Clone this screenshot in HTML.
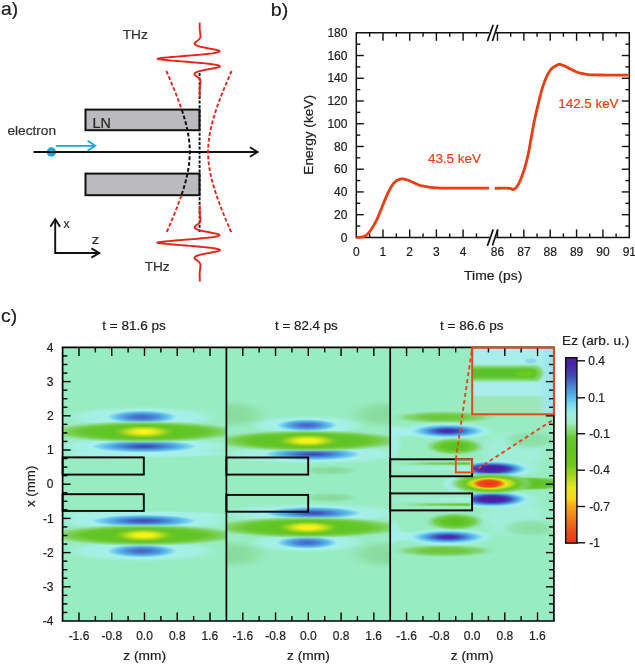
<!DOCTYPE html>
<html><head><meta charset="utf-8"><title>figure</title>
<style>
html,body{margin:0;padding:0;background:#fff;overflow:hidden;}
svg{display:block;will-change:transform;}
text{font-family:"Liberation Sans",sans-serif;}
</style></head>
<body>
<svg width="635" height="665" viewBox="0 0 635 665">
<rect width="635" height="665" fill="#fff"/>
<text transform="translate(1.09 15.2) scale(1.0686 1)" font-size="18" fill="#1c1c1c" stroke="#1c1c1c" stroke-width="0.2">a)</text>
<text transform="translate(122.7 39.1) scale(1.0255 1)" font-size="13.4" fill="#303030" stroke="#303030" stroke-width="0.2">THz</text>
<text transform="translate(144.7 270.6) scale(1.0171 1)" font-size="13.4" fill="#303030" stroke="#303030" stroke-width="0.2">THz</text>
<text transform="translate(7.43 135.1) scale(1.0287 1)" font-size="13.3" fill="#303030" stroke="#303030" stroke-width="0.2">electron</text>
<rect x="85.5" y="109.6" width="114" height="20.6" fill="#bbbbbd" stroke="#111" stroke-width="2"/>
<rect x="85.5" y="173.6" width="114" height="21.6" fill="#bbbbbd" stroke="#111" stroke-width="2"/>
<text transform="translate(92.62 127.7) scale(1.0398 1)" font-size="13.8" fill="#262626" stroke="#262626" stroke-width="0.2">LN</text>
<circle cx="51.4" cy="152" r="4.7" fill="#1aa6dd"/>
<line x1="33.5" y1="152" x2="257" y2="152" stroke="#111" stroke-width="1.9"/>
<path d="M249.9 147.2 L257.6 152 L249.9 156.8" fill="none" stroke="#111" stroke-width="1.9" stroke-linejoin="miter"/>
<line x1="56" y1="145.8" x2="95" y2="145.8" stroke="#1aa6dd" stroke-width="1.8"/>
<path d="M87.6 140.8 L95.3 145.8 L87.6 150.8" fill="none" stroke="#1aa6dd" stroke-width="1.8"/>
<path d="M55.2 219.5 L55.2 253 L99 253" fill="none" stroke="#111" stroke-width="1.9"/>
<path d="M50.3 226.8 L55.2 219.2 L60.1 226.8" fill="none" stroke="#111" stroke-width="1.9"/>
<path d="M91.4 248.4 L99.2 253 L91.4 257.6" fill="none" stroke="#111" stroke-width="1.9"/>
<text transform="translate(63.55 227.9) scale(0.9353 1)" font-size="13" fill="#303030" stroke="#303030" stroke-width="0.2">x</text>
<text transform="translate(91.8 243.6) scale(1.1285 1)" font-size="13" fill="#303030" stroke="#303030" stroke-width="0.2">z</text>
<line x1="199.6" y1="73" x2="199.6" y2="232" stroke="#111" stroke-width="1.9" stroke-dasharray="3 1.6"/>
<path d="M166.3 71 L166.52 71.5 L166.74 72 L166.96 72.5 L167.18 73 L167.4 73.5 L167.62 74 L167.84 74.5 L168.06 75 L168.28 75.5 L168.49 76 L168.71 76.5 L168.93 77 L169.14 77.5 L169.36 78 L169.57 78.5 L169.79 79 L170 79.5 L170.22 80 L170.43 80.5 L170.64 81 L170.86 81.5 L171.07 82 L171.28 82.5 L171.49 83 L171.7 83.5 L171.91 84 L172.12 84.5 L172.33 85 L172.54 85.5 L172.74 86 L172.95 86.5 L173.16 87 L173.36 87.5 L173.57 88 L173.77 88.5 L173.98 89 L174.18 89.5 L174.38 90 L174.58 90.5 L174.79 91 L174.99 91.5 L175.19 92 L175.39 92.5 L175.58 93 L175.78 93.5 L175.98 94 L176.18 94.5 L176.37 95 L176.57 95.5 L176.76 96 L176.96 96.5 L177.15 97 L177.34 97.5 L177.53 98 L177.72 98.5 L177.91 99 L178.1 99.5 L178.29 100 L178.47 100.5 L178.66 101 L178.85 101.5 L179.03 102 L179.21 102.5 L179.4 103 L179.58 103.5 L179.76 104 L179.94 104.5 L180.12 105 L180.29 105.5 L180.47 106 L180.65 106.5 L180.82 107 L180.99 107.5 L181.17 108 L181.34 108.5 L181.51 109 L181.68 109.5" fill="none" stroke="#e2261b" stroke-width="1.9" stroke-dasharray="3.8 2.1" stroke-linecap="butt"/>
<path d="M181.84 110 L182.01 110.5 L182.18 111 L182.34 111.5 L182.5 112 L182.67 112.5 L182.83 113 L182.99 113.5 L183.14 114 L183.3 114.5 L183.46 115 L183.61 115.5 L183.76 116 L183.91 116.5 L184.06 117 L184.21 117.5 L184.36 118 L184.5 118.5 L184.65 119 L184.79 119.5 L184.93 120 L185.07 120.5 L185.21 121 L185.34 121.5 L185.48 122 L185.61 122.5 L185.74 123 L185.87 123.5 L186 124 L186.13 124.5 L186.25 125 L186.37 125.5 L186.49 126 L186.61 126.5 L186.73 127 L186.85 127.5 L186.96 128 L187.07 128.5 L187.18 129 L187.29 129.5 L187.39 130 L187.5 130.5 L187.6 131 L187.7 131.5 L187.8 132 L187.89 132.5 L187.99 133 L188.08 133.5 L188.17 134 L188.25 134.5 L188.34 135 L188.42 135.5 L188.5 136 L188.58 136.5 L188.66 137 L188.73 137.5 L188.8 138 L188.87 138.5 L188.94 139 L189 139.5 L189.06 140 L189.12 140.5 L189.18 141 L189.23 141.5 L189.29 142 L189.33 142.5 L189.38 143 L189.43 143.5 L189.47 144 L189.51 144.5 L189.55 145 L189.58 145.5 L189.61 146 L189.64 146.5 L189.67 147 L189.69 147.5 L189.72 148 L189.74 148.5 L189.75 149 L189.77 149.5 L189.78 150 L189.79 150.5 L189.79 151 L189.8 151.5 L189.8 152 L189.8 152.5 L189.79 153 L189.79 153.5 L189.78 154 L189.77 154.5 L189.75 155 L189.74 155.5 L189.72 156 L189.69 156.5 L189.67 157 L189.64 157.5 L189.61 158 L189.58 158.5 L189.55 159 L189.51 159.5 L189.47 160 L189.43 160.5 L189.38 161 L189.33 161.5 L189.29 162 L189.23 162.5 L189.18 163 L189.12 163.5 L189.06 164 L189 164.5 L188.94 165 L188.87 165.5 L188.8 166 L188.73 166.5 L188.66 167 L188.58 167.5 L188.5 168 L188.42 168.5 L188.34 169 L188.25 169.5 L188.17 170 L188.08 170.5 L187.99 171 L187.89 171.5 L187.8 172 L187.7 172.5 L187.6 173 L187.5 173.5 L187.39 174 L187.29 174.5 L187.18 175 L187.07 175.5 L186.96 176 L186.85 176.5 L186.73 177 L186.61 177.5 L186.49 178 L186.37 178.5 L186.25 179 L186.13 179.5 L186 180 L185.87 180.5 L185.74 181 L185.61 181.5 L185.48 182 L185.34 182.5 L185.21 183 L185.07 183.5 L184.93 184 L184.79 184.5 L184.65 185 L184.5 185.5 L184.36 186 L184.21 186.5 L184.06 187 L183.91 187.5 L183.76 188 L183.61 188.5 L183.46 189 L183.3 189.5 L183.14 190 L182.99 190.5 L182.83 191 L182.67 191.5 L182.5 192 L182.34 192.5 L182.18 193 L182.01 193.5 L181.84 194 L181.68 194.5 L181.51 195" fill="none" stroke="#111" stroke-width="2" stroke-dasharray="3.8 2.1" stroke-linecap="butt"/>
<path d="M181.34 195.5 L181.17 196 L180.99 196.5 L180.82 197 L180.65 197.5 L180.47 198 L180.29 198.5 L180.12 199 L179.94 199.5 L179.76 200 L179.58 200.5 L179.4 201 L179.21 201.5 L179.03 202 L178.85 202.5 L178.66 203 L178.47 203.5 L178.29 204 L178.1 204.5 L177.91 205 L177.72 205.5 L177.53 206 L177.34 206.5 L177.15 207 L176.96 207.5 L176.76 208 L176.57 208.5 L176.37 209 L176.18 209.5 L175.98 210 L175.78 210.5 L175.58 211 L175.39 211.5 L175.19 212 L174.99 212.5 L174.79 213 L174.58 213.5 L174.38 214 L174.18 214.5 L173.98 215 L173.77 215.5 L173.57 216 L173.36 216.5 L173.16 217 L172.95 217.5 L172.74 218 L172.54 218.5 L172.33 219 L172.12 219.5 L171.91 220 L171.7 220.5 L171.49 221 L171.28 221.5 L171.07 222 L170.86 222.5 L170.64 223 L170.43 223.5 L170.22 224 L170 224.5 L169.79 225 L169.57 225.5 L169.36 226 L169.14 226.5 L168.93 227 L168.71 227.5 L168.49 228 L168.28 228.5 L168.06 229 L167.84 229.5 L167.62 230 L167.4 230.5 L167.18 231 L166.96 231.5 L166.74 232 L166.52 232.5 L166.3 233" fill="none" stroke="#e2261b" stroke-width="1.9" stroke-dasharray="3.8 2.1" stroke-linecap="butt"/>
<path d="M231.6 71 L231.38 71.5 L231.16 72 L230.94 72.5 L230.72 73 L230.5 73.5 L230.28 74 L230.06 74.5 L229.84 75 L229.62 75.5 L229.41 76 L229.19 76.5 L228.97 77 L228.76 77.5 L228.54 78 L228.33 78.5 L228.11 79 L227.9 79.5 L227.68 80 L227.47 80.5 L227.26 81 L227.04 81.5 L226.83 82 L226.62 82.5 L226.41 83 L226.2 83.5 L225.99 84 L225.78 84.5 L225.57 85 L225.36 85.5 L225.16 86 L224.95 86.5 L224.74 87 L224.54 87.5 L224.33 88 L224.13 88.5 L223.92 89 L223.72 89.5 L223.52 90 L223.32 90.5 L223.11 91 L222.91 91.5 L222.71 92 L222.51 92.5 L222.32 93 L222.12 93.5 L221.92 94 L221.72 94.5 L221.53 95 L221.33 95.5 L221.14 96 L220.94 96.5 L220.75 97 L220.56 97.5 L220.37 98 L220.18 98.5 L219.99 99 L219.8 99.5 L219.61 100 L219.43 100.5 L219.24 101 L219.05 101.5 L218.87 102 L218.69 102.5 L218.5 103 L218.32 103.5 L218.14 104 L217.96 104.5 L217.78 105 L217.61 105.5 L217.43 106 L217.25 106.5 L217.08 107 L216.91 107.5 L216.73 108 L216.56 108.5 L216.39 109 L216.22 109.5 L216.06 110 L215.89 110.5 L215.72 111 L215.56 111.5 L215.4 112 L215.23 112.5 L215.07 113 L214.91 113.5 L214.76 114 L214.6 114.5 L214.44 115 L214.29 115.5 L214.14 116 L213.99 116.5 L213.84 117 L213.69 117.5 L213.54 118 L213.4 118.5 L213.25 119 L213.11 119.5 L212.97 120 L212.83 120.5 L212.69 121 L212.56 121.5 L212.42 122 L212.29 122.5 L212.16 123 L212.03 123.5 L211.9 124 L211.77 124.5 L211.65 125 L211.53 125.5 L211.41 126 L211.29 126.5 L211.17 127 L211.05 127.5 L210.94 128 L210.83 128.5 L210.72 129 L210.61 129.5 L210.51 130 L210.4 130.5 L210.3 131 L210.2 131.5 L210.1 132 L210.01 132.5 L209.91 133 L209.82 133.5 L209.73 134 L209.65 134.5 L209.56 135 L209.48 135.5 L209.4 136 L209.32 136.5 L209.24 137 L209.17 137.5 L209.1 138 L209.03 138.5 L208.96 139 L208.9 139.5 L208.84 140 L208.78 140.5 L208.72 141 L208.67 141.5 L208.61 142 L208.57 142.5 L208.52 143 L208.47 143.5 L208.43 144 L208.39 144.5 L208.35 145 L208.32 145.5 L208.29 146 L208.26 146.5 L208.23 147 L208.21 147.5 L208.18 148 L208.16 148.5 L208.15 149 L208.13 149.5 L208.12 150 L208.11 150.5 L208.11 151 L208.1 151.5 L208.1 152 L208.1 152.5 L208.11 153 L208.11 153.5 L208.12 154 L208.13 154.5 L208.15 155 L208.16 155.5 L208.18 156 L208.21 156.5 L208.23 157 L208.26 157.5 L208.29 158 L208.32 158.5 L208.35 159 L208.39 159.5 L208.43 160 L208.47 160.5 L208.52 161 L208.57 161.5 L208.61 162 L208.67 162.5 L208.72 163 L208.78 163.5 L208.84 164 L208.9 164.5 L208.96 165 L209.03 165.5 L209.1 166 L209.17 166.5 L209.24 167 L209.32 167.5 L209.4 168 L209.48 168.5 L209.56 169 L209.65 169.5 L209.73 170 L209.82 170.5 L209.91 171 L210.01 171.5 L210.1 172 L210.2 172.5 L210.3 173 L210.4 173.5 L210.51 174 L210.61 174.5 L210.72 175 L210.83 175.5 L210.94 176 L211.05 176.5 L211.17 177 L211.29 177.5 L211.41 178 L211.53 178.5 L211.65 179 L211.77 179.5 L211.9 180 L212.03 180.5 L212.16 181 L212.29 181.5 L212.42 182 L212.56 182.5 L212.69 183 L212.83 183.5 L212.97 184 L213.11 184.5 L213.25 185 L213.4 185.5 L213.54 186 L213.69 186.5 L213.84 187 L213.99 187.5 L214.14 188 L214.29 188.5 L214.44 189 L214.6 189.5 L214.76 190 L214.91 190.5 L215.07 191 L215.23 191.5 L215.4 192 L215.56 192.5 L215.72 193 L215.89 193.5 L216.06 194 L216.22 194.5 L216.39 195 L216.56 195.5 L216.73 196 L216.91 196.5 L217.08 197 L217.25 197.5 L217.43 198 L217.61 198.5 L217.78 199 L217.96 199.5 L218.14 200 L218.32 200.5 L218.5 201 L218.69 201.5 L218.87 202 L219.05 202.5 L219.24 203 L219.43 203.5 L219.61 204 L219.8 204.5 L219.99 205 L220.18 205.5 L220.37 206 L220.56 206.5 L220.75 207 L220.94 207.5 L221.14 208 L221.33 208.5 L221.53 209 L221.72 209.5 L221.92 210 L222.12 210.5 L222.32 211 L222.51 211.5 L222.71 212 L222.91 212.5 L223.11 213 L223.32 213.5 L223.52 214 L223.72 214.5 L223.92 215 L224.13 215.5 L224.33 216 L224.54 216.5 L224.74 217 L224.95 217.5 L225.16 218 L225.36 218.5 L225.57 219 L225.78 219.5 L225.99 220 L226.2 220.5 L226.41 221 L226.62 221.5 L226.83 222 L227.04 222.5 L227.26 223 L227.47 223.5 L227.68 224 L227.9 224.5 L228.11 225 L228.33 225.5 L228.54 226 L228.76 226.5 L228.97 227 L229.19 227.5 L229.41 228 L229.62 228.5 L229.84 229 L230.06 229.5 L230.28 230 L230.5 230.5 L230.72 231 L230.94 231.5 L231.16 232 L231.38 232.5 L231.6 233" fill="none" stroke="#e2261b" stroke-width="1.9" stroke-dasharray="3.8 2.1" stroke-linecap="butt"/>
<path d="M199.78 22.6 L199.76 23 L199.74 23.4 L199.73 23.8 L199.71 24.2 L199.69 24.6 L199.68 25 L199.66 25.4 L199.65 25.8 L199.64 26.2 L199.64 26.6 L199.63 27 L199.64 27.4 L199.64 27.8 L199.66 28.2 L199.68 28.6 L199.7 29 L199.73 29.4 L199.77 29.8 L199.81 30.2 L199.86 30.6 L199.91 31 L199.97 31.4 L200.03 31.8 L200.09 32.2 L200.15 32.6 L200.21 33 L200.26 33.4 L200.31 33.8 L200.35 34.2 L200.37 34.6 L200.4 35 L200.43 35.4 L200.44 35.8 L200.43 36.2 L200.39 36.6 L200.32 37 L200.21 37.4 L200.06 37.8 L199.86 38.2 L199.61 38.6 L199.3 39 L198.95 39.4 L198.54 39.8 L198.08 40.2 L197.57 40.6 L197.03 41 L196.48 41.4 L195.91 41.8 L195.36 42.2 L194.95 42.6 L194.72 43 L194.62 43.4 L194.66 43.8 L194.85 44.2 L195.23 44.6 L195.8 45 L196.57 45.4 L197.56 45.8 L198.76 46.2 L200.17 46.6 L201.78 47 L203.56 47.4 L205.5 47.8 L207.55 48.2 L209.67 48.6 L211.8 49 L213.88 49.4 L215.85 49.8 L217.63 50.2 L218.99 50.6 L219.52 51 L219.59 51.4 L219.15 51.8 L218.17 52.2 L216.63 52.6 L214.53 53 L211.87 53.4 L208.69 53.8 L205.01 54.2 L200.89 54.6 L196.41 55 L191.65 55.4 L186.71 55.8 L181.7 56.2 L176.76 56.6 L172.01 57 L167.6 57.4 L163.66 57.8 L160.33 58.2 L157.76 58.6 L157.75 59 L160.28 59.4 L163.58 59.8 L167.51 60.2 L171.91 60.6 L176.66 61 L181.61 61.4 L186.63 61.8 L191.59 62.2 L196.38 62.6 L200.9 63 L205.05 63.4 L208.77 63.8 L212 64.2 L214.7 64.6 L216.84 65 L218.41 65.4 L219.42 65.8 L219.88 66.2 L219.83 66.6 L219.3 67 L217.8 67.4 L216.03 67.8 L214.05 68.2 L211.95 68.6 L209.8 69 L207.66 69.4 L205.59 69.8 L203.62 70.2 L201.81 70.6 L200.18 71 L198.74 71.4 L197.52 71.8 L196.51 72.2 L195.71 72.6 L195.13 73 L194.74 73.4 L194.53 73.8 L194.49 74.2 L194.59 74.6 L194.81 75 L195.33 75.4 L195.88 75.8 L196.45 76.2 L197.02 76.6 L197.56 77 L198.07 77.4 L198.53 77.8 L198.94 78.2 L199.3 78.6 L199.61 79 L199.86 79.4 L200.06 79.8 L200.21 80.2 L200.32 80.6 L200.39 81 L200.43 81.4 L200.44 81.8 L200.43 82.2 L200.4 82.6 L200.37 83 L200.35 83.4 L200.31 83.8 L200.26 84.2 L200.21 84.6 L200.15 85 L200.09 85.4 L200.03 85.8 L199.97 86.2 L199.91 86.6 L199.86 87 L199.81 87.4 L199.77 87.8 L199.73 88.2 L199.7 88.6 L199.68 89 L199.66 89.4 L199.64 89.8 L199.64 90.2 L199.63 90.6 L199.64 91 L199.64 91.4 L199.65 91.8 L199.66 92.2 L199.68 92.6 L199.69 93 L199.71 93.4 L199.73 93.8 L199.74 94.2 L199.76 94.6 L199.78 95 L199.79 95.4 L199.8 95.8 L199.81 96.2 L199.82 96.6 L199.83 97 L199.84 97.4" fill="none" stroke="#e2261b" stroke-width="1.9" stroke-linejoin="round"/>
<path d="M199.81 205.5 L199.79 205.9 L199.78 206.3 L199.76 206.7 L199.75 207.1 L199.73 207.5 L199.71 207.9 L199.7 208.3 L199.68 208.7 L199.67 209.1 L199.65 209.5 L199.64 209.9 L199.64 210.3 L199.63 210.7 L199.64 211.1 L199.64 211.5 L199.65 211.9 L199.67 212.3 L199.69 212.7 L199.72 213.1 L199.76 213.5 L199.8 213.9 L199.85 214.3 L199.9 214.7 L199.95 215.1 L200.01 215.5 L200.07 215.9 L200.13 216.3 L200.19 216.7 L200.25 217.1 L200.3 217.5 L200.34 217.9 L200.37 218.3 L200.39 218.7 L200.43 219.1 L200.44 219.5 L200.44 219.9 L200.4 220.3 L200.34 220.7 L200.24 221.1 L200.1 221.5 L199.91 221.9 L199.67 222.3 L199.38 222.7 L199.04 223.1 L198.64 223.5 L198.2 223.9 L197.7 224.3 L197.17 224.7 L196.62 225.1 L196.05 225.5 L195.5 225.9 L195.02 226.3 L194.77 226.7 L194.63 227.1 L194.63 227.5 L194.79 227.9 L195.12 228.3 L195.64 228.7 L196.36 229.1 L197.29 229.5 L198.44 229.9 L199.8 230.3 L201.36 230.7 L203.1 231.1 L205 231.5 L207.03 231.9 L209.13 232.3 L211.27 232.7 L213.37 233.1 L215.38 233.5 L217.21 233.9 L218.79 234.3 L219.43 234.7 L219.62 235.1 L219.31 235.5 L218.47 235.9 L217.07 236.3 L215.11 236.7 L212.59 237.1 L209.53 237.5 L205.97 237.9 L201.96 238.3 L197.56 238.7 L192.86 239.1 L187.95 239.5 L182.95 239.9 L177.98 240.3 L173.17 240.7 L168.66 241.1 L164.59 241.5 L161.1 241.9 L158.33 242.3 L157.24 242.7 L159.57 243.1 L162.7 243.5 L166.48 243.9 L170.77 244.3 L175.45 244.7 L180.36 245.1 L185.37 245.5 L190.36 245.9 L195.21 246.3 L199.8 246.7 L204.05 247.1 L207.89 247.5 L211.24 247.9 L214.08 248.3 L216.36 248.7 L218.07 249.1 L219.22 249.5 L219.82 249.9 L219.89 250.3 L219.47 250.7 L218.21 251.1 L216.49 251.5 L214.56 251.9 L212.48 252.3 L210.34 252.7 L208.19 253.1 L206.09 253.5 L204.1 253.9 L202.25 254.3 L200.57 254.7 L199.08 255.1 L197.8 255.5 L196.74 255.9 L195.89 256.3 L195.25 256.7 L194.82 257.1 L194.56 257.5 L194.48 257.9 L194.55 258.3 L194.75 258.7 L195.19 259.1 L195.74 259.5 L196.31 259.9 L196.88 260.3 L197.43 260.7 L197.94 261.1 L198.42 261.5 L198.84 261.9 L199.22 262.3 L199.54 262.7 L199.8 263.1 L200.01 263.5 L200.18 263.9 L200.3 264.3 L200.38 264.7 L200.43 265.1 L200.44 265.5 L200.44 265.9 L200.41 266.3 L200.38 266.7 L200.35 267.1 L200.32 267.5 L200.27 267.9 L200.22 268.3 L200.16 268.7 L200.1 269.1 L200.04 269.5 L199.98 269.9 L199.93 270.3 L199.87 270.7 L199.82 271.1 L199.78 271.5 L199.74 271.9 L199.71 272.3 L199.68 272.7 L199.66 273.1 L199.65 273.5 L199.64 273.9 L199.63 274.3 L199.64 274.7 L199.64 275.1 L199.65 275.5 L199.66 275.9 L199.67 276.3 L199.69 276.7 L199.71 277.1 L199.72 277.5 L199.74 277.9 L199.76 278.3 L199.77 278.7 L199.79 279.1 L199.8 279.5 L199.81 279.9 L199.82 280.3 L199.83 280.7 L199.84 281.1 L199.84 281.5" fill="none" stroke="#e2261b" stroke-width="1.9" stroke-linejoin="round"/>
<text transform="translate(270.72 15.6) scale(1.0936 1)" font-size="18" fill="#1c1c1c" stroke="#1c1c1c" stroke-width="0.2">b)</text>
<line x1="356.3" y1="32.05" x2="356.3" y2="238.15" stroke="#111" stroke-width="1.5"/>
<line x1="629.3" y1="32.05" x2="629.3" y2="238.15" stroke="#111" stroke-width="1.5"/>
<line x1="356.3" y1="237.4" x2="489.6" y2="237.4" stroke="#111" stroke-width="1.5"/>
<line x1="496" y1="237.4" x2="629.3" y2="237.4" stroke="#111" stroke-width="1.5"/>
<line x1="356.3" y1="32.8" x2="489.6" y2="32.8" stroke="#111" stroke-width="1.5"/>
<line x1="496" y1="32.8" x2="629.3" y2="32.8" stroke="#111" stroke-width="1.5"/>
<line x1="356.3" y1="226.03" x2="360.3" y2="226.03" stroke="#111" stroke-width="1.4"/>
<line x1="629.3" y1="226.03" x2="625.3" y2="226.03" stroke="#111" stroke-width="1.4"/>
<line x1="356.3" y1="214.67" x2="363.8" y2="214.67" stroke="#111" stroke-width="1.4"/>
<line x1="629.3" y1="214.67" x2="621.8" y2="214.67" stroke="#111" stroke-width="1.4"/>
<line x1="356.3" y1="203.3" x2="360.3" y2="203.3" stroke="#111" stroke-width="1.4"/>
<line x1="629.3" y1="203.3" x2="625.3" y2="203.3" stroke="#111" stroke-width="1.4"/>
<line x1="356.3" y1="191.93" x2="363.8" y2="191.93" stroke="#111" stroke-width="1.4"/>
<line x1="629.3" y1="191.93" x2="621.8" y2="191.93" stroke="#111" stroke-width="1.4"/>
<line x1="356.3" y1="180.57" x2="360.3" y2="180.57" stroke="#111" stroke-width="1.4"/>
<line x1="629.3" y1="180.57" x2="625.3" y2="180.57" stroke="#111" stroke-width="1.4"/>
<line x1="356.3" y1="169.2" x2="363.8" y2="169.2" stroke="#111" stroke-width="1.4"/>
<line x1="629.3" y1="169.2" x2="621.8" y2="169.2" stroke="#111" stroke-width="1.4"/>
<line x1="356.3" y1="157.83" x2="360.3" y2="157.83" stroke="#111" stroke-width="1.4"/>
<line x1="629.3" y1="157.83" x2="625.3" y2="157.83" stroke="#111" stroke-width="1.4"/>
<line x1="356.3" y1="146.47" x2="363.8" y2="146.47" stroke="#111" stroke-width="1.4"/>
<line x1="629.3" y1="146.47" x2="621.8" y2="146.47" stroke="#111" stroke-width="1.4"/>
<line x1="356.3" y1="135.1" x2="360.3" y2="135.1" stroke="#111" stroke-width="1.4"/>
<line x1="629.3" y1="135.1" x2="625.3" y2="135.1" stroke="#111" stroke-width="1.4"/>
<line x1="356.3" y1="123.73" x2="363.8" y2="123.73" stroke="#111" stroke-width="1.4"/>
<line x1="629.3" y1="123.73" x2="621.8" y2="123.73" stroke="#111" stroke-width="1.4"/>
<line x1="356.3" y1="112.37" x2="360.3" y2="112.37" stroke="#111" stroke-width="1.4"/>
<line x1="629.3" y1="112.37" x2="625.3" y2="112.37" stroke="#111" stroke-width="1.4"/>
<line x1="356.3" y1="101" x2="363.8" y2="101" stroke="#111" stroke-width="1.4"/>
<line x1="629.3" y1="101" x2="621.8" y2="101" stroke="#111" stroke-width="1.4"/>
<line x1="356.3" y1="89.63" x2="360.3" y2="89.63" stroke="#111" stroke-width="1.4"/>
<line x1="629.3" y1="89.63" x2="625.3" y2="89.63" stroke="#111" stroke-width="1.4"/>
<line x1="356.3" y1="78.27" x2="363.8" y2="78.27" stroke="#111" stroke-width="1.4"/>
<line x1="629.3" y1="78.27" x2="621.8" y2="78.27" stroke="#111" stroke-width="1.4"/>
<line x1="356.3" y1="66.9" x2="360.3" y2="66.9" stroke="#111" stroke-width="1.4"/>
<line x1="629.3" y1="66.9" x2="625.3" y2="66.9" stroke="#111" stroke-width="1.4"/>
<line x1="356.3" y1="55.53" x2="363.8" y2="55.53" stroke="#111" stroke-width="1.4"/>
<line x1="629.3" y1="55.53" x2="621.8" y2="55.53" stroke="#111" stroke-width="1.4"/>
<line x1="356.3" y1="44.17" x2="360.3" y2="44.17" stroke="#111" stroke-width="1.4"/>
<line x1="629.3" y1="44.17" x2="625.3" y2="44.17" stroke="#111" stroke-width="1.4"/>
<line x1="369.65" y1="237.4" x2="369.65" y2="233.4" stroke="#111" stroke-width="1.4"/>
<line x1="369.65" y1="32.8" x2="369.65" y2="36.8" stroke="#111" stroke-width="1.4"/>
<line x1="383" y1="237.4" x2="383" y2="229.4" stroke="#111" stroke-width="1.4"/>
<line x1="383" y1="32.8" x2="383" y2="40.8" stroke="#111" stroke-width="1.4"/>
<line x1="396.35" y1="237.4" x2="396.35" y2="233.4" stroke="#111" stroke-width="1.4"/>
<line x1="396.35" y1="32.8" x2="396.35" y2="36.8" stroke="#111" stroke-width="1.4"/>
<line x1="409.7" y1="237.4" x2="409.7" y2="229.4" stroke="#111" stroke-width="1.4"/>
<line x1="409.7" y1="32.8" x2="409.7" y2="40.8" stroke="#111" stroke-width="1.4"/>
<line x1="423.05" y1="237.4" x2="423.05" y2="233.4" stroke="#111" stroke-width="1.4"/>
<line x1="423.05" y1="32.8" x2="423.05" y2="36.8" stroke="#111" stroke-width="1.4"/>
<line x1="436.4" y1="237.4" x2="436.4" y2="229.4" stroke="#111" stroke-width="1.4"/>
<line x1="436.4" y1="32.8" x2="436.4" y2="40.8" stroke="#111" stroke-width="1.4"/>
<line x1="449.75" y1="237.4" x2="449.75" y2="233.4" stroke="#111" stroke-width="1.4"/>
<line x1="449.75" y1="32.8" x2="449.75" y2="36.8" stroke="#111" stroke-width="1.4"/>
<line x1="463.1" y1="237.4" x2="463.1" y2="229.4" stroke="#111" stroke-width="1.4"/>
<line x1="463.1" y1="32.8" x2="463.1" y2="40.8" stroke="#111" stroke-width="1.4"/>
<line x1="476.45" y1="237.4" x2="476.45" y2="233.4" stroke="#111" stroke-width="1.4"/>
<line x1="476.45" y1="32.8" x2="476.45" y2="36.8" stroke="#111" stroke-width="1.4"/>
<line x1="497.5" y1="237.4" x2="497.5" y2="229.4" stroke="#111" stroke-width="1.4"/>
<line x1="497.5" y1="32.8" x2="497.5" y2="40.8" stroke="#111" stroke-width="1.4"/>
<line x1="510.68" y1="237.4" x2="510.68" y2="233.4" stroke="#111" stroke-width="1.4"/>
<line x1="510.68" y1="32.8" x2="510.68" y2="36.8" stroke="#111" stroke-width="1.4"/>
<line x1="523.86" y1="237.4" x2="523.86" y2="229.4" stroke="#111" stroke-width="1.4"/>
<line x1="523.86" y1="32.8" x2="523.86" y2="40.8" stroke="#111" stroke-width="1.4"/>
<line x1="537.04" y1="237.4" x2="537.04" y2="233.4" stroke="#111" stroke-width="1.4"/>
<line x1="537.04" y1="32.8" x2="537.04" y2="36.8" stroke="#111" stroke-width="1.4"/>
<line x1="550.22" y1="237.4" x2="550.22" y2="229.4" stroke="#111" stroke-width="1.4"/>
<line x1="550.22" y1="32.8" x2="550.22" y2="40.8" stroke="#111" stroke-width="1.4"/>
<line x1="563.4" y1="237.4" x2="563.4" y2="233.4" stroke="#111" stroke-width="1.4"/>
<line x1="563.4" y1="32.8" x2="563.4" y2="36.8" stroke="#111" stroke-width="1.4"/>
<line x1="576.58" y1="237.4" x2="576.58" y2="229.4" stroke="#111" stroke-width="1.4"/>
<line x1="576.58" y1="32.8" x2="576.58" y2="40.8" stroke="#111" stroke-width="1.4"/>
<line x1="589.76" y1="237.4" x2="589.76" y2="233.4" stroke="#111" stroke-width="1.4"/>
<line x1="589.76" y1="32.8" x2="589.76" y2="36.8" stroke="#111" stroke-width="1.4"/>
<line x1="602.94" y1="237.4" x2="602.94" y2="229.4" stroke="#111" stroke-width="1.4"/>
<line x1="602.94" y1="32.8" x2="602.94" y2="40.8" stroke="#111" stroke-width="1.4"/>
<line x1="616.12" y1="237.4" x2="616.12" y2="233.4" stroke="#111" stroke-width="1.4"/>
<line x1="616.12" y1="32.8" x2="616.12" y2="36.8" stroke="#111" stroke-width="1.4"/>
<line x1="487.4" y1="245.9" x2="493.2" y2="229.4" stroke="#111" stroke-width="1.7"/>
<line x1="492.4" y1="245.6" x2="497.8" y2="229.4" stroke="#111" stroke-width="1.7"/>
<line x1="487.4" y1="41.3" x2="493.2" y2="24.8" stroke="#111" stroke-width="1.7"/>
<line x1="492.4" y1="41" x2="497.8" y2="24.8" stroke="#111" stroke-width="1.7"/>
<text x="340.8" y="241.5" font-size="12" fill="#1c1c1c" stroke="#1c1c1c" stroke-width="0.2">0</text>
<text x="334.12" y="218.77" font-size="12" fill="#1c1c1c" stroke="#1c1c1c" stroke-width="0.2">20</text>
<text x="334.12" y="196.03" font-size="12" fill="#1c1c1c" stroke="#1c1c1c" stroke-width="0.2">40</text>
<text x="334.12" y="173.3" font-size="12" fill="#1c1c1c" stroke="#1c1c1c" stroke-width="0.2">60</text>
<text x="334.12" y="150.57" font-size="12" fill="#1c1c1c" stroke="#1c1c1c" stroke-width="0.2">80</text>
<text x="327.45" y="127.83" font-size="12" fill="#1c1c1c" stroke="#1c1c1c" stroke-width="0.2">100</text>
<text x="327.45" y="105.1" font-size="12" fill="#1c1c1c" stroke="#1c1c1c" stroke-width="0.2">120</text>
<text x="327.45" y="82.37" font-size="12" fill="#1c1c1c" stroke="#1c1c1c" stroke-width="0.2">140</text>
<text x="327.45" y="59.63" font-size="12" fill="#1c1c1c" stroke="#1c1c1c" stroke-width="0.2">160</text>
<text x="327.45" y="36.9" font-size="12" fill="#1c1c1c" stroke="#1c1c1c" stroke-width="0.2">180</text>
<text x="352.96" y="256" font-size="12" fill="#1c1c1c" stroke="#1c1c1c" stroke-width="0.2">0</text>
<text x="379.5" y="256" font-size="12" fill="#1c1c1c" stroke="#1c1c1c" stroke-width="0.2">1</text>
<text x="406.36" y="256" font-size="12" fill="#1c1c1c" stroke="#1c1c1c" stroke-width="0.2">2</text>
<text x="433.1" y="256" font-size="12" fill="#1c1c1c" stroke="#1c1c1c" stroke-width="0.2">3</text>
<text x="459.8" y="256" font-size="12" fill="#1c1c1c" stroke="#1c1c1c" stroke-width="0.2">4</text>
<text x="490.83" y="256" font-size="12" fill="#1c1c1c" stroke="#1c1c1c" stroke-width="0.2">86</text>
<text x="517.23" y="256" font-size="12" fill="#1c1c1c" stroke="#1c1c1c" stroke-width="0.2">87</text>
<text x="543.55" y="256" font-size="12" fill="#1c1c1c" stroke="#1c1c1c" stroke-width="0.2">88</text>
<text x="569.93" y="256" font-size="12" fill="#1c1c1c" stroke="#1c1c1c" stroke-width="0.2">89</text>
<text x="596.22" y="256" font-size="12" fill="#1c1c1c" stroke="#1c1c1c" stroke-width="0.2">90</text>
<text x="622.64" y="256" font-size="12" fill="#1c1c1c" stroke="#1c1c1c" stroke-width="0.2">91</text>
<text transform="translate(313 174.72) rotate(-90) scale(1.0126 1)" font-size="13.5" fill="#1c1c1c" stroke="#1c1c1c" stroke-width="0.2">Energy (keV)</text>
<text transform="translate(464.09 280.2) scale(1.0314 1)" font-size="13.5" fill="#1c1c1c" stroke="#1c1c1c" stroke-width="0.2">Time (ps)</text>
<text transform="translate(427.89 163.2) scale(1.0130 1)" font-size="13.3" fill="#ec3c12" stroke="#ec3c12" stroke-width="0.2">43.5 keV</text>
<text transform="translate(558.28 107.7) scale(1.0066 1)" font-size="13.3" fill="#ec3c12" stroke="#ec3c12" stroke-width="0.2">142.5 keV</text>
<path d="M356.3 237.4 L356.57 237.39 L356.93 237.39 L357.35 237.39 L357.82 237.39 L358.33 237.37 L358.88 237.34 L359.44 237.28 L360 237.2 L360.59 237.11 L361.21 237.03 L361.87 236.93 L362.56 236.82 L363.25 236.66 L363.94 236.45 L364.63 236.17 L365.3 235.8 L365.95 235.35 L366.6 234.83 L367.25 234.26 L367.9 233.62 L368.55 232.92 L369.2 232.17 L369.85 231.36 L370.5 230.5 L371.17 229.56 L371.84 228.54 L372.53 227.45 L373.21 226.31 L373.89 225.14 L374.55 223.95 L375.19 222.77 L375.8 221.6 L376.38 220.45 L376.93 219.29 L377.46 218.13 L377.97 216.95 L378.47 215.76 L378.98 214.56 L379.48 213.34 L380 212.1 L380.52 210.83 L381.05 209.52 L381.57 208.19 L382.1 206.85 L382.62 205.51 L383.15 204.18 L383.68 202.87 L384.2 201.6 L384.72 200.35 L385.25 199.11 L385.77 197.87 L386.3 196.66 L386.82 195.46 L387.35 194.3 L387.88 193.18 L388.4 192.1 L388.92 191.05 L389.45 190.03 L389.97 189.03 L390.5 188.07 L391.02 187.15 L391.55 186.28 L392.07 185.46 L392.6 184.7 L393.12 184 L393.62 183.36 L394.13 182.78 L394.63 182.24 L395.14 181.74 L395.67 181.29 L396.22 180.88 L396.8 180.5 L397.41 180.16 L398.05 179.85 L398.71 179.59 L399.38 179.37 L400.06 179.19 L400.75 179.05 L401.43 178.95 L402.1 178.9 L402.76 178.9 L403.4 178.95 L404.04 179.05 L404.69 179.19 L405.34 179.36 L406 179.56 L406.69 179.77 L407.4 180 L408.14 180.25 L408.9 180.54 L409.69 180.86 L410.49 181.2 L411.29 181.55 L412.1 181.91 L412.91 182.26 L413.7 182.6 L414.46 182.94 L415.19 183.28 L415.9 183.64 L416.62 183.99 L417.37 184.33 L418.16 184.67 L419.04 185 L420 185.3 L421.08 185.59 L422.27 185.88 L423.53 186.16 L424.84 186.43 L426.18 186.68 L427.5 186.91 L428.78 187.12 L430 187.3 L431.14 187.45 L432.23 187.58 L433.28 187.68 L434.33 187.76 L435.38 187.83 L436.46 187.89 L437.59 187.95 L438.8 188 L439.9 188.05 L440.78 188.09 L441.6 188.12 L442.51 188.14 L443.66 188.16 L445.19 188.18 L447.25 188.19 L450 188.2 L453.81 188.21 L458.71 188.21 L464.3 188.21 L470.2 188.21 L476.01 188.21 L481.34 188.2 L485.8 188.2 L489 188.2" fill="none" stroke="#ec3c12" stroke-width="2.8" stroke-linejoin="round"/>
<path d="M494.6 188.3 L495.81 188.29 L497.49 188.27 L499.5 188.24 L501.69 188.22 L503.91 188.2 L506.02 188.21 L507.86 188.24 L509.3 188.3 L510.33 188.44 L511.08 188.67 L511.63 188.95 L512.04 189.24 L512.36 189.49 L512.68 189.66 L513.03 189.71 L513.5 189.6 L514.05 189.35 L514.6 189.01 L515.16 188.58 L515.72 188.05 L516.29 187.43 L516.86 186.72 L517.43 185.91 L518 185 L518.58 183.96 L519.17 182.78 L519.76 181.48 L520.36 180.09 L520.94 178.65 L521.52 177.19 L522.07 175.73 L522.6 174.3 L523.1 172.89 L523.59 171.45 L524.06 169.99 L524.52 168.52 L524.96 167.04 L525.39 165.56 L525.8 164.07 L526.2 162.6 L526.59 161.12 L526.96 159.63 L527.31 158.13 L527.66 156.64 L527.99 155.15 L528.3 153.68 L528.61 152.22 L528.9 150.8 L529.16 149.47 L529.39 148.26 L529.59 147.11 L529.79 145.96 L529.99 144.74 L530.22 143.4 L530.48 141.87 L530.8 140.1 L531.18 138.02 L531.6 135.67 L532.06 133.12 L532.54 130.46 L533.04 127.75 L533.54 125.09 L534.03 122.54 L534.5 120.2 L534.96 118.02 L535.42 115.92 L535.88 113.88 L536.34 111.91 L536.8 110 L537.24 108.15 L537.68 106.35 L538.1 104.6 L538.5 102.9 L538.89 101.27 L539.27 99.7 L539.64 98.17 L540 96.7 L540.36 95.27 L540.73 93.87 L541.1 92.5 L541.47 91.17 L541.84 89.9 L542.2 88.66 L542.56 87.47 L542.93 86.3 L543.31 85.16 L543.7 84.03 L544.1 82.9 L544.52 81.77 L544.96 80.65 L545.41 79.53 L545.86 78.44 L546.32 77.38 L546.79 76.37 L547.25 75.4 L547.7 74.5 L548.15 73.65 L548.6 72.86 L549.05 72.1 L549.49 71.39 L549.94 70.73 L550.39 70.11 L550.85 69.53 L551.3 69 L551.75 68.52 L552.2 68.11 L552.65 67.75 L553.1 67.42 L553.56 67.13 L554.02 66.85 L554.5 66.58 L555 66.3 L555.51 66 L556.02 65.68 L556.54 65.36 L557.07 65.06 L557.62 64.8 L558.19 64.59 L558.78 64.45 L559.4 64.4 L560.05 64.45 L560.72 64.58 L561.42 64.78 L562.13 65.03 L562.86 65.33 L563.6 65.64 L564.35 65.97 L565.1 66.3 L565.86 66.64 L566.63 67.02 L567.42 67.42 L568.21 67.84 L569.01 68.27 L569.81 68.7 L570.61 69.11 L571.4 69.5 L572.18 69.88 L572.95 70.25 L573.71 70.62 L574.47 70.99 L575.25 71.34 L576.04 71.68 L576.86 72 L577.7 72.3 L578.58 72.58 L579.49 72.84 L580.42 73.09 L581.37 73.32 L582.33 73.54 L583.29 73.74 L584.25 73.93 L585.2 74.1 L585.95 74.25 L586.43 74.38 L586.8 74.5 L587.23 74.6 L587.88 74.69 L588.91 74.77 L590.5 74.84 L592.8 74.9 L596.17 74.96 L600.61 75 L605.73 75.03 L611.17 75.05 L616.56 75.07 L621.51 75.08 L625.65 75.09 L628.6 75.1" fill="none" stroke="#ec3c12" stroke-width="2.8" stroke-linejoin="round"/>
<defs>
<radialGradient id="g_blue3"><stop offset="0" stop-color="#3c48b0" stop-opacity="1"/><stop offset="0.2" stop-color="#4060c0" stop-opacity="1"/><stop offset="0.4" stop-color="#4a8ad6" stop-opacity="1"/><stop offset="0.6" stop-color="#58b6e8" stop-opacity="1"/><stop offset="0.76" stop-color="#7cd4ee" stop-opacity="1"/><stop offset="0.88" stop-color="#a6f0ea" stop-opacity="0.95"/><stop offset="1" stop-color="#a6f0ea" stop-opacity="0"/></radialGradient>
<radialGradient id="g_blue3l"><stop offset="0" stop-color="#4862c4" stop-opacity="1"/><stop offset="0.22" stop-color="#4a74cc" stop-opacity="1"/><stop offset="0.42" stop-color="#4e94da" stop-opacity="1"/><stop offset="0.6" stop-color="#5ab8ea" stop-opacity="1"/><stop offset="0.76" stop-color="#82d8ee" stop-opacity="1"/><stop offset="0.88" stop-color="#a6f0ea" stop-opacity="0.95"/><stop offset="1" stop-color="#a6f0ea" stop-opacity="0"/></radialGradient>
<radialGradient id="g_band2"><stop offset="0" stop-color="#72cc44" stop-opacity="1"/><stop offset="0.6" stop-color="#78ce50" stop-opacity="1"/><stop offset="0.8" stop-color="#84d66c" stop-opacity="0.8"/><stop offset="1" stop-color="#92e2a8" stop-opacity="0"/></radialGradient>
<radialGradient id="g_band"><stop offset="0" stop-color="#5cc21e" stop-opacity="1"/><stop offset="0.6" stop-color="#64c62a" stop-opacity="1"/><stop offset="0.75" stop-color="#78d050" stop-opacity="1"/><stop offset="0.88" stop-color="#8edc8c" stop-opacity="0.8"/><stop offset="1" stop-color="#92e2a8" stop-opacity="0"/></radialGradient>
<radialGradient id="g_ycore"><stop offset="0" stop-color="#f8f41c" stop-opacity="1"/><stop offset="0.25" stop-color="#f4f01c" stop-opacity="1"/><stop offset="0.5" stop-color="#c0e018" stop-opacity="1"/><stop offset="0.75" stop-color="#80cc20" stop-opacity="0.9"/><stop offset="1" stop-color="#5ec424" stop-opacity="0"/></radialGradient>
<radialGradient id="g_halo"><stop offset="0" stop-color="#a6f0ea" stop-opacity="1"/><stop offset="0.7" stop-color="#a6f0ea" stop-opacity="0.85"/><stop offset="1" stop-color="#a6f0ea" stop-opacity="0"/></radialGradient>
<radialGradient id="g_purple"><stop offset="0" stop-color="#4a1fa6" stop-opacity="1"/><stop offset="0.3" stop-color="#4a22a8" stop-opacity="1"/><stop offset="0.45" stop-color="#3f4cb6" stop-opacity="1"/><stop offset="0.58" stop-color="#4a8ad6" stop-opacity="1"/><stop offset="0.7" stop-color="#5cc0ec" stop-opacity="1"/><stop offset="0.84" stop-color="#9ae8ec" stop-opacity="1"/><stop offset="1" stop-color="#a6f0ea" stop-opacity="0"/></radialGradient>
<radialGradient id="g_blue5"><stop offset="0" stop-color="#4a22a8" stop-opacity="1"/><stop offset="0.18" stop-color="#4236b0" stop-opacity="1"/><stop offset="0.32" stop-color="#4560c0" stop-opacity="1"/><stop offset="0.45" stop-color="#4a90d8" stop-opacity="1"/><stop offset="0.6" stop-color="#5cc0ec" stop-opacity="1"/><stop offset="0.78" stop-color="#9ae8ec" stop-opacity="1"/><stop offset="1" stop-color="#a6f0ea" stop-opacity="0"/></radialGradient>
<radialGradient id="g_lgreen2"><stop offset="0" stop-color="#66c634" stop-opacity="1"/><stop offset="0.4" stop-color="#70ca44" stop-opacity="1"/><stop offset="0.7" stop-color="#84d672" stop-opacity="0.9"/><stop offset="1" stop-color="#92e2a8" stop-opacity="0"/></radialGradient>
<radialGradient id="g_ring"><stop offset="0" stop-color="#f0ec1c" stop-opacity="1"/><stop offset="0.35" stop-color="#f0ec1c" stop-opacity="1"/><stop offset="0.5" stop-color="#b0dc18" stop-opacity="1"/><stop offset="0.62" stop-color="#6ac624" stop-opacity="1"/><stop offset="0.8" stop-color="#7cd25c" stop-opacity="0.9"/><stop offset="1" stop-color="#90e0a0" stop-opacity="0"/></radialGradient>
<radialGradient id="g_rcore"><stop offset="0" stop-color="#e8361a" stop-opacity="1"/><stop offset="0.55" stop-color="#ec481a" stop-opacity="1"/><stop offset="0.75" stop-color="#f48a18" stop-opacity="1"/><stop offset="0.9" stop-color="#f8c818" stop-opacity="0.8"/><stop offset="1" stop-color="#f0ec1c" stop-opacity="0"/></radialGradient>
<radialGradient id="g_gband"><stop offset="0" stop-color="#5cc21e" stop-opacity="1"/><stop offset="0.6" stop-color="#64c62a" stop-opacity="1"/><stop offset="0.8" stop-color="#78d056" stop-opacity="0.9"/><stop offset="1" stop-color="#90e0a0" stop-opacity="0"/></radialGradient>
<radialGradient id="g_red2"><stop offset="0" stop-color="#e8361a" stop-opacity="1"/><stop offset="0.18" stop-color="#ee4a1a" stop-opacity="1"/><stop offset="0.3" stop-color="#f4801a" stop-opacity="1"/><stop offset="0.4" stop-color="#f8c818" stop-opacity="1"/><stop offset="0.5" stop-color="#f0ec1c" stop-opacity="1"/><stop offset="0.6" stop-color="#a8dc18" stop-opacity="1"/><stop offset="0.7" stop-color="#68c626" stop-opacity="1"/><stop offset="0.86" stop-color="#80d46c" stop-opacity="0.8"/><stop offset="1" stop-color="#90e0a0" stop-opacity="0"/></radialGradient>
<radialGradient id="g_blue4"><stop offset="0" stop-color="#4a20a6" stop-opacity="1"/><stop offset="0.2" stop-color="#3f3fb0" stop-opacity="1"/><stop offset="0.38" stop-color="#4a86d4" stop-opacity="1"/><stop offset="0.56" stop-color="#5cc0ec" stop-opacity="1"/><stop offset="0.74" stop-color="#9ae8ec" stop-opacity="1"/><stop offset="0.88" stop-color="#a6f0ea" stop-opacity="0.8"/><stop offset="1" stop-color="#a6f0ea" stop-opacity="0"/></radialGradient>
<radialGradient id="g_cyan"><stop offset="0" stop-color="#a6f0ea" stop-opacity="1"/><stop offset="0.6" stop-color="#a6f0ea" stop-opacity="0.9"/><stop offset="1" stop-color="#a6f0ea" stop-opacity="0"/></radialGradient>
<radialGradient id="g_yel"><stop offset="0" stop-color="#f8f41c" stop-opacity="1"/><stop offset="0.14" stop-color="#e8ee1a" stop-opacity="1"/><stop offset="0.3" stop-color="#9cd818" stop-opacity="1"/><stop offset="0.5" stop-color="#62c424" stop-opacity="1"/><stop offset="0.72" stop-color="#70cc48" stop-opacity="1"/><stop offset="0.88" stop-color="#88dc88" stop-opacity="0.8"/><stop offset="1" stop-color="#90e0a0" stop-opacity="0"/></radialGradient>
<radialGradient id="g_red"><stop offset="0" stop-color="#e8361a" stop-opacity="1"/><stop offset="0.16" stop-color="#f06a1a" stop-opacity="1"/><stop offset="0.3" stop-color="#f8b014" stop-opacity="1"/><stop offset="0.42" stop-color="#f8ec1c" stop-opacity="1"/><stop offset="0.56" stop-color="#a8dc18" stop-opacity="1"/><stop offset="0.72" stop-color="#64c428" stop-opacity="1"/><stop offset="0.88" stop-color="#80d46c" stop-opacity="0.8"/><stop offset="1" stop-color="#90e0a0" stop-opacity="0"/></radialGradient>
<radialGradient id="g_green"><stop offset="0" stop-color="#58c018" stop-opacity="1"/><stop offset="0.4" stop-color="#60c426" stop-opacity="1"/><stop offset="0.68" stop-color="#76d050" stop-opacity="1"/><stop offset="0.86" stop-color="#8cdc90" stop-opacity="0.7"/><stop offset="1" stop-color="#92e2a8" stop-opacity="0"/></radialGradient>
<radialGradient id="g_lgreen"><stop offset="0" stop-color="#78d054" stop-opacity="1"/><stop offset="0.5" stop-color="#82d668" stop-opacity="0.9"/><stop offset="1" stop-color="#92e2a8" stop-opacity="0"/></radialGradient>
<radialGradient id="g_faint"><stop offset="0" stop-color="#86da98" stop-opacity="1"/><stop offset="0.55" stop-color="#8adc9e" stop-opacity="0.85"/><stop offset="1" stop-color="#90e2aa" stop-opacity="0"/></radialGradient>
<clipPath id="cp0"><rect x="62.6" y="347.4" width="163.8" height="273.6"/></clipPath>
<clipPath id="cp1"><rect x="226.4" y="347.4" width="163.79999999999998" height="273.6"/></clipPath>
<clipPath id="cp2"><rect x="390.2" y="347.4" width="163.7" height="273.6"/></clipPath>
<clipPath id="cpr"><rect x="471.5" y="440" width="90" height="90"/></clipPath>
<clipPath id="cpin"><rect x="472.2" y="347.6" width="81.7" height="66.7"/></clipPath>
<filter id="bl1" x="-50%" y="-50%" width="200%" height="200%"><feGaussianBlur stdDeviation="1.2 0.6"/></filter>
<filter id="bl3" x="-50%" y="-50%" width="200%" height="200%"><feGaussianBlur stdDeviation="1.6 1.1"/></filter>
<filter id="bl2" x="-50%" y="-50%" width="200%" height="200%"><feGaussianBlur stdDeviation="3 1.2"/></filter>
<linearGradient id="cbar" x1="0" y1="0" x2="0" y2="1"><stop offset="0" stop-color="#4a1fa6"/><stop offset="0.04" stop-color="#4a24a8"/><stop offset="0.1" stop-color="#3f4cb6"/><stop offset="0.16" stop-color="#4a8ad6"/><stop offset="0.21" stop-color="#56b8ea"/><stop offset="0.25" stop-color="#78d8ee"/><stop offset="0.3" stop-color="#9aeee6"/><stop offset="0.35" stop-color="#a0ecc4"/><stop offset="0.39" stop-color="#88dc78"/><stop offset="0.43" stop-color="#66c830"/><stop offset="0.5" stop-color="#64c41c"/><stop offset="0.58" stop-color="#70c81c"/><stop offset="0.64" stop-color="#a8d81c"/><stop offset="0.7" stop-color="#e4e81c"/><stop offset="0.76" stop-color="#f8d818"/><stop offset="0.8" stop-color="#f8a814"/><stop offset="0.87" stop-color="#f07a18"/><stop offset="0.94" stop-color="#ec4c1a"/><stop offset="1" stop-color="#e8381a"/></linearGradient>
</defs>
<g clip-path="url(#cp0)"><rect x="62.6" y="347.4" width="163.8" height="273.6" fill="#97ecc1"/>
<ellipse cx="144" cy="453.5" rx="100" ry="4.5" fill="url(#g_cyan)"/>
<ellipse cx="142" cy="417" rx="80" ry="11" fill="url(#g_halo)"/>
<ellipse cx="143" cy="446.4" rx="95" ry="10" fill="url(#g_halo)"/>
<ellipse cx="142" cy="417" rx="40" ry="7.5" fill="url(#g_blue3l)"/>
<ellipse cx="144" cy="446.4" rx="60" ry="7" fill="url(#g_blue3)"/>
<ellipse cx="144" cy="431.8" rx="160" ry="6" fill="url(#g_band2)"/>
<ellipse cx="144" cy="431.8" rx="100" ry="11" fill="url(#g_band)"/>
<ellipse cx="144" cy="431.8" rx="33" ry="7" fill="url(#g_ycore)"/>
<ellipse cx="144" cy="515" rx="100" ry="4.5" fill="url(#g_cyan)"/>
<ellipse cx="142" cy="551" rx="80" ry="11" fill="url(#g_halo)"/>
<ellipse cx="143" cy="520.8" rx="95" ry="10" fill="url(#g_halo)"/>
<ellipse cx="142" cy="551" rx="40" ry="7.5" fill="url(#g_blue3l)"/>
<ellipse cx="144" cy="520.8" rx="60" ry="7" fill="url(#g_blue3)"/>
<ellipse cx="144" cy="535.2" rx="160" ry="6" fill="url(#g_band2)"/>
<ellipse cx="144" cy="535.2" rx="100" ry="11" fill="url(#g_band)"/>
<ellipse cx="144" cy="535.2" rx="33" ry="7" fill="url(#g_ycore)"/>
</g>
<g clip-path="url(#cp1)"><rect x="226.4" y="347.4" width="163.79999999999998" height="273.6" fill="#97ecc1"/>
<ellipse cx="226.4" cy="414.2" rx="45" ry="15" fill="url(#g_faint)"/>
<ellipse cx="390.2" cy="414.2" rx="45" ry="15" fill="url(#g_faint)"/>
<ellipse cx="226.4" cy="554.2" rx="45" ry="15" fill="url(#g_faint)"/>
<ellipse cx="390.2" cy="554.2" rx="45" ry="15" fill="url(#g_faint)"/>
<ellipse cx="330" cy="470.5" rx="30" ry="5" fill="url(#g_faint)"/>
<ellipse cx="330" cy="497.5" rx="30" ry="5" fill="url(#g_faint)"/>
<ellipse cx="307" cy="425.3" rx="60" ry="10" fill="url(#g_halo)"/>
<ellipse cx="313" cy="454.2" rx="95" ry="10" fill="url(#g_halo)"/>
<ellipse cx="307" cy="425.3" rx="35" ry="7" fill="url(#g_blue3l)"/>
<ellipse cx="313" cy="454.2" rx="55" ry="7" fill="url(#g_blue3)"/>
<ellipse cx="308" cy="440.8" rx="160" ry="6" fill="url(#g_band2)"/>
<ellipse cx="308" cy="440.8" rx="100" ry="11" fill="url(#g_band)"/>
<ellipse cx="308" cy="440.8" rx="33" ry="7" fill="url(#g_ycore)"/>
<ellipse cx="307" cy="542.6" rx="60" ry="10" fill="url(#g_halo)"/>
<ellipse cx="313" cy="513" rx="95" ry="10" fill="url(#g_halo)"/>
<ellipse cx="307" cy="542.6" rx="35" ry="7" fill="url(#g_blue3l)"/>
<ellipse cx="313" cy="513" rx="55" ry="7" fill="url(#g_blue3)"/>
<ellipse cx="308" cy="527.4" rx="160" ry="6" fill="url(#g_band2)"/>
<ellipse cx="308" cy="527.4" rx="100" ry="11" fill="url(#g_band)"/>
<ellipse cx="308" cy="527.4" rx="33" ry="7" fill="url(#g_ycore)"/>
</g>
<g clip-path="url(#cp2)"><rect x="390.2" y="347.4" width="163.7" height="273.6" fill="#97ecc1"/>
<ellipse cx="515" cy="450" rx="40" ry="22" fill="url(#g_cyan)" opacity="0.6"/>
<ellipse cx="515" cy="518" rx="40" ry="22" fill="url(#g_cyan)" opacity="0.6"/>
<ellipse cx="530" cy="440" rx="30" ry="10" fill="url(#g_faint)" opacity="0.8"/>
<ellipse cx="530" cy="528" rx="30" ry="10" fill="url(#g_faint)" opacity="0.8"/>
<ellipse cx="392" cy="444" rx="10" ry="18" fill="url(#g_cyan)" opacity="0.8"/>
<ellipse cx="392" cy="532" rx="10" ry="14" fill="url(#g_cyan)" opacity="0.8"/>
<ellipse cx="444" cy="417.2" rx="54" ry="6.5" fill="url(#g_lgreen2)"/>
<ellipse cx="448" cy="431" rx="50" ry="9.5" fill="url(#g_halo)"/>
<ellipse cx="392" cy="432" rx="26" ry="6.5" fill="url(#g_halo)"/>
<ellipse cx="448" cy="431" rx="44" ry="8" fill="url(#g_blue5)"/>
<ellipse cx="455" cy="446.4" rx="30" ry="9" fill="url(#g_green)"/>
<g clip-path="url(#cpr)">
<ellipse cx="494" cy="468.8" rx="48" ry="10" fill="url(#g_halo)"/>
<ellipse cx="492" cy="468.8" rx="40" ry="8.5" fill="url(#g_purple)"/>
</g>
<ellipse cx="444" cy="550.8" rx="54" ry="6.5" fill="url(#g_lgreen2)"/>
<ellipse cx="448" cy="537" rx="50" ry="9.5" fill="url(#g_halo)"/>
<ellipse cx="392" cy="536" rx="26" ry="6.5" fill="url(#g_halo)"/>
<ellipse cx="448" cy="537" rx="44" ry="8" fill="url(#g_blue5)"/>
<ellipse cx="455" cy="521.6" rx="30" ry="9" fill="url(#g_green)"/>
<g clip-path="url(#cpr)">
<ellipse cx="494" cy="499.2" rx="48" ry="10" fill="url(#g_halo)"/>
<ellipse cx="492" cy="499.2" rx="40" ry="8.5" fill="url(#g_purple)"/>
</g>
<ellipse cx="526" cy="483.6" rx="50" ry="7" fill="url(#g_gband)"/>
<ellipse cx="455" cy="483.6" rx="14" ry="8" fill="url(#g_halo)"/>
<ellipse cx="491" cy="483.6" rx="43" ry="11" fill="url(#g_ring)"/>
<ellipse cx="489" cy="483.6" rx="18" ry="5.5" fill="url(#g_rcore)"/>
</g>
<g clip-path="url(#cpin)">
<rect x="472" y="347" width="83" height="68" fill="#a8eeea"/>
<rect x="465" y="396" width="80" height="25" fill="#9ae8b8" filter="url(#bl2)"/>
<rect x="544" y="340" width="15" height="80" fill="#9ee4ee" filter="url(#bl2)"/>
<path d="M470 365.5 L538 365.5 Q548 373 538 381 L470 381 Z" fill="#80d668" filter="url(#bl3)"/>
<path d="M470 368.2 L534 368.2 Q541 373 534 378.2 L470 378.2 Z" fill="#5cc22a" filter="url(#bl3)"/>
<ellipse cx="525" cy="373.5" rx="9" ry="3" fill="#6acc12" filter="url(#bl1)"/>
<ellipse cx="531" cy="361" rx="6" ry="2.5" fill="#8cd8f0" filter="url(#bl1)"/>
</g>
<rect x="62.6" y="457.4" width="81.2" height="17.2" fill="none" stroke="#000" stroke-width="1.9"/>
<rect x="62.6" y="494.2" width="81.2" height="16.7" fill="none" stroke="#000" stroke-width="1.9"/>
<rect x="226.4" y="457.5" width="81.8" height="17.1" fill="none" stroke="#000" stroke-width="1.9"/>
<rect x="226.4" y="494.9" width="81.8" height="16.8" fill="none" stroke="#000" stroke-width="1.9"/>
<defs><linearGradient id="gl" x1="0" y1="0" x2="1" y2="0"><stop offset="0" stop-color="#7cd25a" stop-opacity="0"/><stop offset="0.45" stop-color="#72ce48" stop-opacity="0.8"/><stop offset="1" stop-color="#62c62c" stop-opacity="1"/></linearGradient><linearGradient id="gc" x1="0" y1="0" x2="1" y2="0"><stop offset="0" stop-color="#a6f0ea" stop-opacity="0.3"/><stop offset="1" stop-color="#a6f0ea" stop-opacity="0.9"/></linearGradient></defs>
<rect x="392" y="466.5" width="79" height="4" fill="url(#gc)" filter="url(#bl1)"/>
<rect x="392" y="497.5" width="79" height="4" fill="url(#gc)" filter="url(#bl1)"/>
<rect x="400" y="462.3" width="70" height="2.4" fill="url(#gl)" filter="url(#bl1)"/>
<rect x="400" y="503.4" width="70" height="2.4" fill="url(#gl)" filter="url(#bl1)"/>
<rect x="390.2" y="459.3" width="81.9" height="17" fill="none" stroke="#000" stroke-width="1.9"/>
<rect x="390.2" y="493.4" width="81.9" height="17" fill="none" stroke="#000" stroke-width="1.9"/>
<line x1="62.6" y1="347.4" x2="62.6" y2="621" stroke="#000" stroke-width="1.7"/>
<line x1="226.4" y1="347.4" x2="226.4" y2="621" stroke="#000" stroke-width="1.7"/>
<line x1="390.2" y1="347.4" x2="390.2" y2="621" stroke="#000" stroke-width="1.7"/>
<line x1="553.9" y1="347.4" x2="553.9" y2="621" stroke="#000" stroke-width="1.7"/>
<line x1="61.75" y1="347.4" x2="554.75" y2="347.4" stroke="#000" stroke-width="1.7"/>
<line x1="61.75" y1="621" x2="554.75" y2="621" stroke="#000" stroke-width="1.7"/>
<line x1="62.6" y1="355.95" x2="67.4" y2="355.95" stroke="#000" stroke-width="1.4"/>
<line x1="553.9" y1="355.95" x2="549.1" y2="355.95" stroke="#000" stroke-width="1.4"/>
<line x1="62.6" y1="364.5" x2="67.4" y2="364.5" stroke="#000" stroke-width="1.4"/>
<line x1="553.9" y1="364.5" x2="549.1" y2="364.5" stroke="#000" stroke-width="1.4"/>
<line x1="62.6" y1="373.05" x2="67.4" y2="373.05" stroke="#000" stroke-width="1.4"/>
<line x1="553.9" y1="373.05" x2="549.1" y2="373.05" stroke="#000" stroke-width="1.4"/>
<line x1="62.6" y1="381.6" x2="70.6" y2="381.6" stroke="#000" stroke-width="1.4"/>
<line x1="553.9" y1="381.6" x2="545.9" y2="381.6" stroke="#000" stroke-width="1.4"/>
<line x1="62.6" y1="390.15" x2="67.4" y2="390.15" stroke="#000" stroke-width="1.4"/>
<line x1="553.9" y1="390.15" x2="549.1" y2="390.15" stroke="#000" stroke-width="1.4"/>
<line x1="62.6" y1="398.7" x2="67.4" y2="398.7" stroke="#000" stroke-width="1.4"/>
<line x1="553.9" y1="398.7" x2="549.1" y2="398.7" stroke="#000" stroke-width="1.4"/>
<line x1="62.6" y1="407.25" x2="67.4" y2="407.25" stroke="#000" stroke-width="1.4"/>
<line x1="553.9" y1="407.25" x2="549.1" y2="407.25" stroke="#000" stroke-width="1.4"/>
<line x1="62.6" y1="415.8" x2="70.6" y2="415.8" stroke="#000" stroke-width="1.4"/>
<line x1="553.9" y1="415.8" x2="545.9" y2="415.8" stroke="#000" stroke-width="1.4"/>
<line x1="62.6" y1="424.35" x2="67.4" y2="424.35" stroke="#000" stroke-width="1.4"/>
<line x1="553.9" y1="424.35" x2="549.1" y2="424.35" stroke="#000" stroke-width="1.4"/>
<line x1="62.6" y1="432.9" x2="67.4" y2="432.9" stroke="#000" stroke-width="1.4"/>
<line x1="553.9" y1="432.9" x2="549.1" y2="432.9" stroke="#000" stroke-width="1.4"/>
<line x1="62.6" y1="441.45" x2="67.4" y2="441.45" stroke="#000" stroke-width="1.4"/>
<line x1="553.9" y1="441.45" x2="549.1" y2="441.45" stroke="#000" stroke-width="1.4"/>
<line x1="62.6" y1="450" x2="70.6" y2="450" stroke="#000" stroke-width="1.4"/>
<line x1="553.9" y1="450" x2="545.9" y2="450" stroke="#000" stroke-width="1.4"/>
<line x1="62.6" y1="458.55" x2="67.4" y2="458.55" stroke="#000" stroke-width="1.4"/>
<line x1="553.9" y1="458.55" x2="549.1" y2="458.55" stroke="#000" stroke-width="1.4"/>
<line x1="62.6" y1="467.1" x2="67.4" y2="467.1" stroke="#000" stroke-width="1.4"/>
<line x1="553.9" y1="467.1" x2="549.1" y2="467.1" stroke="#000" stroke-width="1.4"/>
<line x1="62.6" y1="475.65" x2="67.4" y2="475.65" stroke="#000" stroke-width="1.4"/>
<line x1="553.9" y1="475.65" x2="549.1" y2="475.65" stroke="#000" stroke-width="1.4"/>
<line x1="62.6" y1="484.2" x2="70.6" y2="484.2" stroke="#000" stroke-width="1.4"/>
<line x1="553.9" y1="484.2" x2="545.9" y2="484.2" stroke="#000" stroke-width="1.4"/>
<line x1="62.6" y1="492.75" x2="67.4" y2="492.75" stroke="#000" stroke-width="1.4"/>
<line x1="553.9" y1="492.75" x2="549.1" y2="492.75" stroke="#000" stroke-width="1.4"/>
<line x1="62.6" y1="501.3" x2="67.4" y2="501.3" stroke="#000" stroke-width="1.4"/>
<line x1="553.9" y1="501.3" x2="549.1" y2="501.3" stroke="#000" stroke-width="1.4"/>
<line x1="62.6" y1="509.85" x2="67.4" y2="509.85" stroke="#000" stroke-width="1.4"/>
<line x1="553.9" y1="509.85" x2="549.1" y2="509.85" stroke="#000" stroke-width="1.4"/>
<line x1="62.6" y1="518.4" x2="70.6" y2="518.4" stroke="#000" stroke-width="1.4"/>
<line x1="553.9" y1="518.4" x2="545.9" y2="518.4" stroke="#000" stroke-width="1.4"/>
<line x1="62.6" y1="526.95" x2="67.4" y2="526.95" stroke="#000" stroke-width="1.4"/>
<line x1="553.9" y1="526.95" x2="549.1" y2="526.95" stroke="#000" stroke-width="1.4"/>
<line x1="62.6" y1="535.5" x2="67.4" y2="535.5" stroke="#000" stroke-width="1.4"/>
<line x1="553.9" y1="535.5" x2="549.1" y2="535.5" stroke="#000" stroke-width="1.4"/>
<line x1="62.6" y1="544.05" x2="67.4" y2="544.05" stroke="#000" stroke-width="1.4"/>
<line x1="553.9" y1="544.05" x2="549.1" y2="544.05" stroke="#000" stroke-width="1.4"/>
<line x1="62.6" y1="552.6" x2="70.6" y2="552.6" stroke="#000" stroke-width="1.4"/>
<line x1="553.9" y1="552.6" x2="545.9" y2="552.6" stroke="#000" stroke-width="1.4"/>
<line x1="62.6" y1="561.15" x2="67.4" y2="561.15" stroke="#000" stroke-width="1.4"/>
<line x1="553.9" y1="561.15" x2="549.1" y2="561.15" stroke="#000" stroke-width="1.4"/>
<line x1="62.6" y1="569.7" x2="67.4" y2="569.7" stroke="#000" stroke-width="1.4"/>
<line x1="553.9" y1="569.7" x2="549.1" y2="569.7" stroke="#000" stroke-width="1.4"/>
<line x1="62.6" y1="578.25" x2="67.4" y2="578.25" stroke="#000" stroke-width="1.4"/>
<line x1="553.9" y1="578.25" x2="549.1" y2="578.25" stroke="#000" stroke-width="1.4"/>
<line x1="62.6" y1="586.8" x2="70.6" y2="586.8" stroke="#000" stroke-width="1.4"/>
<line x1="553.9" y1="586.8" x2="545.9" y2="586.8" stroke="#000" stroke-width="1.4"/>
<line x1="62.6" y1="595.35" x2="67.4" y2="595.35" stroke="#000" stroke-width="1.4"/>
<line x1="553.9" y1="595.35" x2="549.1" y2="595.35" stroke="#000" stroke-width="1.4"/>
<line x1="62.6" y1="603.9" x2="67.4" y2="603.9" stroke="#000" stroke-width="1.4"/>
<line x1="553.9" y1="603.9" x2="549.1" y2="603.9" stroke="#000" stroke-width="1.4"/>
<line x1="62.6" y1="612.45" x2="67.4" y2="612.45" stroke="#000" stroke-width="1.4"/>
<line x1="553.9" y1="612.45" x2="549.1" y2="612.45" stroke="#000" stroke-width="1.4"/>
<line x1="78.98" y1="347.4" x2="78.98" y2="356" stroke="#000" stroke-width="1.4"/>
<line x1="78.98" y1="621" x2="78.98" y2="612.4" stroke="#000" stroke-width="1.4"/>
<line x1="95.36" y1="347.4" x2="95.36" y2="352.4" stroke="#000" stroke-width="1.4"/>
<line x1="95.36" y1="621" x2="95.36" y2="616" stroke="#000" stroke-width="1.4"/>
<line x1="111.74" y1="347.4" x2="111.74" y2="356" stroke="#000" stroke-width="1.4"/>
<line x1="111.74" y1="621" x2="111.74" y2="612.4" stroke="#000" stroke-width="1.4"/>
<line x1="128.12" y1="347.4" x2="128.12" y2="352.4" stroke="#000" stroke-width="1.4"/>
<line x1="128.12" y1="621" x2="128.12" y2="616" stroke="#000" stroke-width="1.4"/>
<line x1="144.5" y1="347.4" x2="144.5" y2="356" stroke="#000" stroke-width="1.4"/>
<line x1="144.5" y1="621" x2="144.5" y2="612.4" stroke="#000" stroke-width="1.4"/>
<line x1="160.88" y1="347.4" x2="160.88" y2="352.4" stroke="#000" stroke-width="1.4"/>
<line x1="160.88" y1="621" x2="160.88" y2="616" stroke="#000" stroke-width="1.4"/>
<line x1="177.26" y1="347.4" x2="177.26" y2="356" stroke="#000" stroke-width="1.4"/>
<line x1="177.26" y1="621" x2="177.26" y2="612.4" stroke="#000" stroke-width="1.4"/>
<line x1="193.64" y1="347.4" x2="193.64" y2="352.4" stroke="#000" stroke-width="1.4"/>
<line x1="193.64" y1="621" x2="193.64" y2="616" stroke="#000" stroke-width="1.4"/>
<line x1="210.02" y1="347.4" x2="210.02" y2="356" stroke="#000" stroke-width="1.4"/>
<line x1="210.02" y1="621" x2="210.02" y2="612.4" stroke="#000" stroke-width="1.4"/>
<text x="68.64" y="639.6" font-size="12" fill="#1c1c1c" stroke="#1c1c1c" stroke-width="0.2">-1.6</text>
<text x="101.4" y="639.6" font-size="12" fill="#1c1c1c" stroke="#1c1c1c" stroke-width="0.2">-0.8</text>
<text x="136.16" y="639.6" font-size="12" fill="#1c1c1c" stroke="#1c1c1c" stroke-width="0.2">0.0</text>
<text x="168.94" y="639.6" font-size="12" fill="#1c1c1c" stroke="#1c1c1c" stroke-width="0.2">0.8</text>
<text x="201.49" y="639.6" font-size="12" fill="#1c1c1c" stroke="#1c1c1c" stroke-width="0.2">1.6</text>
<text transform="translate(123.29 660) scale(1.0405 1)" font-size="13.2" fill="#1c1c1c" stroke="#1c1c1c" stroke-width="0.2">z (mm)</text>
<line x1="242.78" y1="347.4" x2="242.78" y2="356" stroke="#000" stroke-width="1.4"/>
<line x1="242.78" y1="621" x2="242.78" y2="612.4" stroke="#000" stroke-width="1.4"/>
<line x1="259.16" y1="347.4" x2="259.16" y2="352.4" stroke="#000" stroke-width="1.4"/>
<line x1="259.16" y1="621" x2="259.16" y2="616" stroke="#000" stroke-width="1.4"/>
<line x1="275.54" y1="347.4" x2="275.54" y2="356" stroke="#000" stroke-width="1.4"/>
<line x1="275.54" y1="621" x2="275.54" y2="612.4" stroke="#000" stroke-width="1.4"/>
<line x1="291.92" y1="347.4" x2="291.92" y2="352.4" stroke="#000" stroke-width="1.4"/>
<line x1="291.92" y1="621" x2="291.92" y2="616" stroke="#000" stroke-width="1.4"/>
<line x1="308.3" y1="347.4" x2="308.3" y2="356" stroke="#000" stroke-width="1.4"/>
<line x1="308.3" y1="621" x2="308.3" y2="612.4" stroke="#000" stroke-width="1.4"/>
<line x1="324.68" y1="347.4" x2="324.68" y2="352.4" stroke="#000" stroke-width="1.4"/>
<line x1="324.68" y1="621" x2="324.68" y2="616" stroke="#000" stroke-width="1.4"/>
<line x1="341.06" y1="347.4" x2="341.06" y2="356" stroke="#000" stroke-width="1.4"/>
<line x1="341.06" y1="621" x2="341.06" y2="612.4" stroke="#000" stroke-width="1.4"/>
<line x1="357.44" y1="347.4" x2="357.44" y2="352.4" stroke="#000" stroke-width="1.4"/>
<line x1="357.44" y1="621" x2="357.44" y2="616" stroke="#000" stroke-width="1.4"/>
<line x1="373.82" y1="347.4" x2="373.82" y2="356" stroke="#000" stroke-width="1.4"/>
<line x1="373.82" y1="621" x2="373.82" y2="612.4" stroke="#000" stroke-width="1.4"/>
<text x="232.44" y="639.6" font-size="12" fill="#1c1c1c" stroke="#1c1c1c" stroke-width="0.2">-1.6</text>
<text x="265.2" y="639.6" font-size="12" fill="#1c1c1c" stroke="#1c1c1c" stroke-width="0.2">-0.8</text>
<text x="299.96" y="639.6" font-size="12" fill="#1c1c1c" stroke="#1c1c1c" stroke-width="0.2">0.0</text>
<text x="332.74" y="639.6" font-size="12" fill="#1c1c1c" stroke="#1c1c1c" stroke-width="0.2">0.8</text>
<text x="365.29" y="639.6" font-size="12" fill="#1c1c1c" stroke="#1c1c1c" stroke-width="0.2">1.6</text>
<text transform="translate(287.09 660) scale(1.0405 1)" font-size="13.2" fill="#1c1c1c" stroke="#1c1c1c" stroke-width="0.2">z (mm)</text>
<line x1="406.57" y1="347.4" x2="406.57" y2="356" stroke="#000" stroke-width="1.4"/>
<line x1="406.57" y1="621" x2="406.57" y2="612.4" stroke="#000" stroke-width="1.4"/>
<line x1="422.94" y1="347.4" x2="422.94" y2="352.4" stroke="#000" stroke-width="1.4"/>
<line x1="422.94" y1="621" x2="422.94" y2="616" stroke="#000" stroke-width="1.4"/>
<line x1="439.31" y1="347.4" x2="439.31" y2="356" stroke="#000" stroke-width="1.4"/>
<line x1="439.31" y1="621" x2="439.31" y2="612.4" stroke="#000" stroke-width="1.4"/>
<line x1="455.68" y1="347.4" x2="455.68" y2="352.4" stroke="#000" stroke-width="1.4"/>
<line x1="455.68" y1="621" x2="455.68" y2="616" stroke="#000" stroke-width="1.4"/>
<line x1="472.05" y1="347.4" x2="472.05" y2="356" stroke="#000" stroke-width="1.4"/>
<line x1="472.05" y1="621" x2="472.05" y2="612.4" stroke="#000" stroke-width="1.4"/>
<line x1="488.42" y1="347.4" x2="488.42" y2="352.4" stroke="#000" stroke-width="1.4"/>
<line x1="488.42" y1="621" x2="488.42" y2="616" stroke="#000" stroke-width="1.4"/>
<line x1="504.79" y1="347.4" x2="504.79" y2="356" stroke="#000" stroke-width="1.4"/>
<line x1="504.79" y1="621" x2="504.79" y2="612.4" stroke="#000" stroke-width="1.4"/>
<line x1="521.16" y1="347.4" x2="521.16" y2="352.4" stroke="#000" stroke-width="1.4"/>
<line x1="521.16" y1="621" x2="521.16" y2="616" stroke="#000" stroke-width="1.4"/>
<line x1="537.53" y1="347.4" x2="537.53" y2="356" stroke="#000" stroke-width="1.4"/>
<line x1="537.53" y1="621" x2="537.53" y2="612.4" stroke="#000" stroke-width="1.4"/>
<text x="396.23" y="639.6" font-size="12" fill="#1c1c1c" stroke="#1c1c1c" stroke-width="0.2">-1.6</text>
<text x="428.97" y="639.6" font-size="12" fill="#1c1c1c" stroke="#1c1c1c" stroke-width="0.2">-0.8</text>
<text x="463.71" y="639.6" font-size="12" fill="#1c1c1c" stroke="#1c1c1c" stroke-width="0.2">0.0</text>
<text x="496.47" y="639.6" font-size="12" fill="#1c1c1c" stroke="#1c1c1c" stroke-width="0.2">0.8</text>
<text x="529" y="639.6" font-size="12" fill="#1c1c1c" stroke="#1c1c1c" stroke-width="0.2">1.6</text>
<text transform="translate(450.84 660) scale(1.0405 1)" font-size="13.2" fill="#1c1c1c" stroke="#1c1c1c" stroke-width="0.2">z (mm)</text>
<rect x="472.2" y="347.6" width="81.7" height="66.7" fill="none" stroke="#e8471e" stroke-width="2"/>
<rect x="455.8" y="459.3" width="16.3" height="13.1" fill="none" stroke="#e8471e" stroke-width="1.8"/>
<line x1="455.8" y1="459.3" x2="472.2" y2="347.6" stroke="#e8471e" stroke-width="1.9" stroke-dasharray="4 3"/>
<line x1="472.1" y1="472.4" x2="553.9" y2="419.3" stroke="#e8471e" stroke-width="1.9" stroke-dasharray="4 3"/>
<text x="42.68" y="625.2" font-size="12" fill="#1c1c1c" stroke="#1c1c1c" stroke-width="0.2">-4</text>
<text x="42.86" y="591" font-size="12" fill="#1c1c1c" stroke="#1c1c1c" stroke-width="0.2">-3</text>
<text x="42.93" y="556.8" font-size="12" fill="#1c1c1c" stroke="#1c1c1c" stroke-width="0.2">-2</text>
<text x="42.92" y="522.6" font-size="12" fill="#1c1c1c" stroke="#1c1c1c" stroke-width="0.2">-1</text>
<text x="46.8" y="488.4" font-size="12" fill="#1c1c1c" stroke="#1c1c1c" stroke-width="0.2">0</text>
<text x="46.92" y="454.2" font-size="12" fill="#1c1c1c" stroke="#1c1c1c" stroke-width="0.2">1</text>
<text x="46.93" y="420" font-size="12" fill="#1c1c1c" stroke="#1c1c1c" stroke-width="0.2">2</text>
<text x="46.86" y="385.8" font-size="12" fill="#1c1c1c" stroke="#1c1c1c" stroke-width="0.2">3</text>
<text x="46.68" y="351.6" font-size="12" fill="#1c1c1c" stroke="#1c1c1c" stroke-width="0.2">4</text>
<text transform="translate(34.9 507.06) rotate(-90) scale(1.0261 1)" font-size="13" fill="#1c1c1c" stroke="#1c1c1c" stroke-width="0.2">x (mm)</text>
<text transform="translate(102.3 329.9) scale(1.0476 1)" font-size="12.9" fill="#1c1c1c" stroke="#1c1c1c" stroke-width="0.2">t = 81.6 ps</text>
<text transform="translate(275.1 329.9) scale(1.0343 1)" font-size="12.9" fill="#1c1c1c" stroke="#1c1c1c" stroke-width="0.2">t = 82.4 ps</text>
<text transform="translate(440 329.9) scale(1.0476 1)" font-size="12.9" fill="#1c1c1c" stroke="#1c1c1c" stroke-width="0.2">t = 86.6 ps</text>
<text transform="translate(1.09 322.4) scale(1.0745 1)" font-size="18" fill="#1c1c1c" stroke="#1c1c1c" stroke-width="0.2">c)</text>
<rect x="565.7" y="357.7" width="11.2" height="185.4" fill="url(#cbar)" stroke="#111" stroke-width="1.5"/>
<line x1="576.9" y1="360.8" x2="585" y2="360.8" stroke="#111" stroke-width="1.4"/>
<text x="588.33" y="365" font-size="12" fill="#1c1c1c" stroke="#1c1c1c" stroke-width="0.2">0.4</text>
<line x1="576.9" y1="397.8" x2="585" y2="397.8" stroke="#111" stroke-width="1.4"/>
<text x="588.33" y="402" font-size="12" fill="#1c1c1c" stroke="#1c1c1c" stroke-width="0.2">0.1</text>
<line x1="576.9" y1="433.7" x2="585" y2="433.7" stroke="#111" stroke-width="1.4"/>
<text x="589.17" y="437.9" font-size="12" fill="#1c1c1c" stroke="#1c1c1c" stroke-width="0.2">-0.1</text>
<line x1="576.9" y1="470.2" x2="585" y2="470.2" stroke="#111" stroke-width="1.4"/>
<text x="589.17" y="474.4" font-size="12" fill="#1c1c1c" stroke="#1c1c1c" stroke-width="0.2">-0.4</text>
<line x1="576.9" y1="506.5" x2="585" y2="506.5" stroke="#111" stroke-width="1.4"/>
<text x="589.17" y="510.7" font-size="12" fill="#1c1c1c" stroke="#1c1c1c" stroke-width="0.2">-0.7</text>
<line x1="576.9" y1="542.8" x2="585" y2="542.8" stroke="#111" stroke-width="1.4"/>
<text x="589.17" y="547" font-size="12" fill="#1c1c1c" stroke="#1c1c1c" stroke-width="0.2">-1</text>
<text transform="translate(562.08 344.8) scale(1.0476 1)" font-size="13" fill="#1c1c1c" stroke="#1c1c1c" stroke-width="0.2">Ez (arb. u.)</text>
</svg>
</body></html>
